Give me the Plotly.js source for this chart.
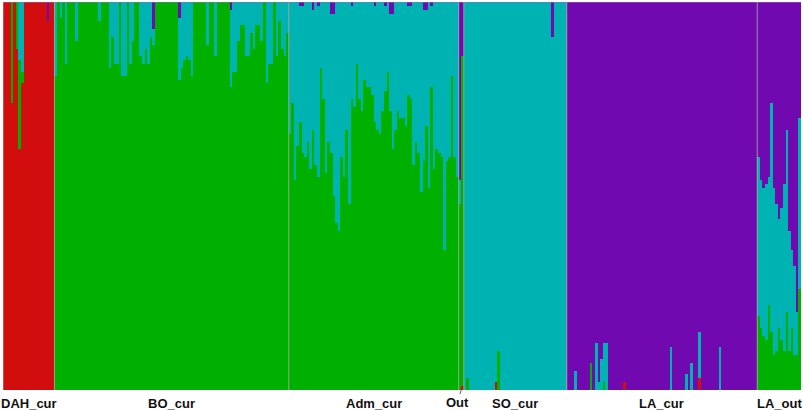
<!DOCTYPE html>
<html>
<head>
<meta charset="utf-8">
<script src="https://cdn.plot.ly/plotly-3.0.1.min.js"></script>
<style>
    html, body { margin: 0; padding: 0; background: #fff; }
    #chart { width: 803px; height: 410px; }
</style>
</head>
<body>
<div id="chart"></div>
<script>
// Cluster colours, stacked bottom to top: red, green, cyan, purple
const clusterColors = ['#d10d0d', '#00b000', '#00b3b3', '#700ab0'];

// Membership (%) per individual. The group's main cluster takes the rest.
// DAH_cur (main: red)
const dahGreen  = [0,0,0,26,0,12,23,3,0,0, 0,0,0,0,0,0,0,0,0,0];
const dahCyan   = [0,0,0,0,0,0,15,18,0,0, 0,0,0,0,0,0,0,0,0,0];
const dahPurple = [0,0,0,0,0,0,0,0,0,0, 0,0,0,0,0,0,0,5,0,0];

// BO_cur (main: green)
const boCyan = [19,0,4,0,16,0,0,0,10,0, 0,0,0,0,0,0,0,5,0,0,
    0,17,9,16,16,0,19,19,0,16, 10,0,0,14,16,12,16,9,4,0,
    0,0,0,0,0,0,0,0,16,17, 15,14,15,19,0,0,0,0,0,11,
    0,0,14,0,0,0,0,0,20,18, 18,10,6,6,14,14,8,12,6,6,
    10,0,21,16,16,0,14,5,12,14, 8];
const boPurple = [0,0,0,0,0,0,0,0,0,0, 0,0,0,0,0,0,0,0,0,0,
    0,0,0,0,0,0,0,0,0,0, 0,0,0,0,0,0,0,0,7,0,
    0,0,0,0,0,0,0,0,4,0, 0,0,0,0,0,0,0,0,0,0,
    0,0,0,0,0,0,0,0,2,0, 0,0,0,0,0,0,0,0,0,0,
    0,0,0,0,0,0,0,0,0,0, 0];

// Adm_cur (main: green)
const admCyan = [34,26,46,37,30,38,40,36,43,31, 42,44,17,25,44,36,36,47,57,59,
    40,45,33,52,24,27,16,25,28,20, 22,22,24,30,33,34,28,22,18,25,
    35,33,28,30,30,32,23,24,42,36, 39,49,39,30,48,21,43,38,39,40,
    64,41,40,19,40,45];
const admPurple = [0,0,0,0,1,1,0,0,0,2, 0,1,0,0,0,0,3,3,0,0,
    0,0,0,0,1,0,0,0,0,0, 0,0,0,1,0,0,0,1,0,3,
    3,0,0,0,0,0,1,1,0,0, 0,0,2,2,0,1,0,0,0,0,
    0,0,0,0,0,0];

// Out (main: green)
const outRed    = [0, 1];
const outCyan   = [6, 0];
const outPurple = [46, 14];

// SO_cur (main: cyan)
const soRed    = [0,0,0,0,0,0,0,0,0,0, 0,0,2,0,0,0,0,0,0,0, 0,0,0,0,0,0,0,0,0,0, 0,0,0,0,0,0,0,0,0,0];
const soGreen  = [0,3,0,0,0,0,0,0,0,0, 0,0,0,10,0,0,0,0,0,0, 0,0,0,0,0,0,0,0,0,0, 0,0,0,0,0,0,0,0,0,0];
const soPurple = [0,0,0,0,0,0,0,0,0,0, 0,0,0,0,0,0,0,0,0,0, 0,0,0,0,0,0,0,0,0,0, 0,0,0,0,9,0,0,0,0,0];

// LA_cur (main: purple)
const laRed = [0,0,0,0,0,0,0,0,0,0, 0,0,0,0,0,0,0,0,0,0,
    0,0,2,0,0,0,0,0,0,0, 0,0,0,0,0,0,0,0,0,0,
    0,0,0,0,0,0,0,0,0,0, 0,3,0,0,0,0,0,0,0,0,
    0,0,0,0,0,0,0,0,0,0, 0,0,0,0];
const laGreen = [0,0,0,0,0,0,0,0,0,7, 0,0,0,0,2,0,0,0,0,0,
    0,0,0,0,0,0,0,0,0,0, 0,0,0,0,0,0,0,0,0,0,
    0,0,0,0,0,0,0,0,0,0, 0,0,0,0,0,0,0,0,0,0,
    0,0,0,0,0,0,0,0,0,0, 0,0,0,0];
const laCyan = [0,0,0,5,0,0,0,0,0,0, 0,12,2,8,10,12,0,0,0,0,
    0,0,0,0,0,0,0,0,0,0, 0,0,0,0,0,0,0,0,0,0,
    11,0,0,0,0,0,4,0,7,0, 0,12,0,0,0,0,0,0,0,11,
    0,0,0,0,0,0,0,0,0,0, 0,0,0,0];

// LA_out (main: purple)
const laoGreen = [19,16,14,13,22,15,9,10,16,13,10,20,10,16,9,9,26];
const laoCyan  = [41,38,38,40,33,59,43,38,28,34,43,47,31,20,23,11,44];

// group name, main cluster index, minor clusters {clusterIndex: values}
const groups = [
    ['DAH_cur', 0, {1: dahGreen, 2: dahCyan, 3: dahPurple}],
    ['BO_cur',  1, {2: boCyan, 3: boPurple}],
    ['Adm_cur', 1, {2: admCyan, 3: admPurple}],
    ['Out',     1, {0: outRed, 2: outCyan, 3: outPurple}],
    ['SO_cur',  2, {0: soRed, 1: soGreen, 3: soPurple}],
    ['LA_cur',  3, {0: laRed, 1: laGreen, 2: laCyan}],
    ['LA_out',  3, {1: laoGreen, 2: laoCyan}]
];

function buildChart() {
    const q = [[], [], [], []];
    const starts = [];
    const centers = [];
    let n = 0;

    groups.forEach(function(g) {
        const main = g[1], parts = g[2];
        const size = parts[Object.keys(parts)[0]].length;
        starts.push(n);
        centers.push(n + (size - 1) / 2);
        for (let i = 0; i < size; i++) {
            let rest = 100;
            for (let k = 0; k < 4; k++) {
                if (k === main) continue;
                const v = parts[k] ? parts[k][i] : 0;
                q[k].push(v);
                rest -= v;
            }
            q[main].push(rest);
        }
        n += size;
    });

    const idx = q[0].map((_, i) => i);
    const traces = clusterColors.map(function(c, k) {
        return {
            type: 'bar',
            x: idx,
            y: q[k],
            marker: { color: c, line: { width: 0 } },
            hoverinfo: 'skip'
        };
    });

    const shapes = starts.map(function(s) {
        return {
            type: 'line', xref: 'x', yref: 'y',
            x0: s - 0.5, x1: s - 0.5, y0: 0, y1: 100,
            line: { color: 'rgba(175,165,160,0.85)', width: 1 }
        };
    });
    shapes.push({
        type: 'line', xref: 'paper', yref: 'y',
        x0: 0, x1: 1, y0: 100, y1: 100,
        line: { color: '#8a70bc', width: 1.2 }
    });

    const labelFont = { family: 'Liberation Sans, Arial, sans-serif', size: 13, color: '#111', weight: 'bold' };
    const annotations = groups.map(function(g, i) {
        if (g[0] === 'Out') {
            return {
                x: centers[i], y: 0, xref: 'x', yref: 'y',
                text: g[0], font: labelFont, borderpad: 0,
                showarrow: true, arrowhead: 0, arrowwidth: 0.8, arrowcolor: '#333',
                ax: -4, ay: 12
            };
        }
        return {
            x: centers[i], y: 0, xref: 'x', yref: 'y',
            text: g[0], font: labelFont,
            showarrow: false, yanchor: 'top', yshift: -4
        };
    });

    const layout = {
        width: 803,
        height: 410,
        margin: { l: 3, r: 2, t: 2, b: 20 },
        barmode: 'stack',
        bargap: 0,
        showlegend: false,
        paper_bgcolor: '#fff',
        plot_bgcolor: '#fff',
        xaxis: { range: [-0.5, n - 0.5], showticklabels: false, showgrid: false, zeroline: false, ticks: '' },
        yaxis: { range: [0, 100], showticklabels: false, showgrid: false, zeroline: false, ticks: '' },
        shapes: shapes,
        annotations: annotations
    };

    Plotly.newPlot('chart', traces, layout, { displayModeBar: false, staticPlot: true });
}

buildChart();
</script>
</body>
</html>
